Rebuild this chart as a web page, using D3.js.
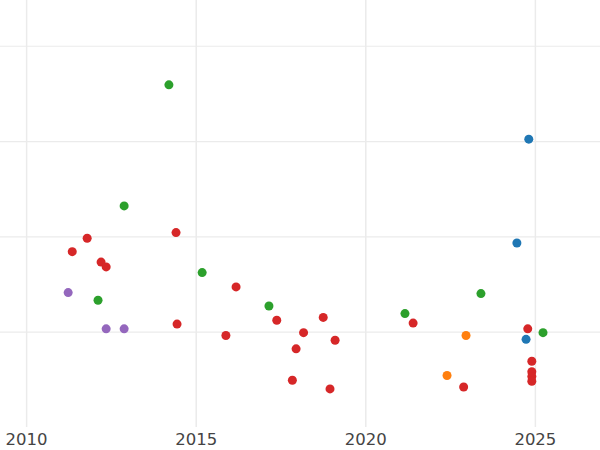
<!DOCTYPE html>
<html>
<head>
<meta charset="utf-8">
<script src="https://cdn.jsdelivr.net/npm/d3@7"></script>
<style>
  body { margin: 0; background: #fff; }
  svg { display: block; font-family: "DejaVu Sans", sans-serif; }
</style>
</head>
<body>
<div class="canvas"></div>
<script>
// years (x) and values (y) per group
const groups = ["blue", "orange", "green", "red", "purple"];

const blueX = [2024.82, 2024.47, 2024.74];
const blueY = [2.02, 0.93, -0.08];

const orangeX = [2022.97, 2022.41];
const orangeY = [-0.04, -0.46];

const greenX = [2014.21, 2012.89, 2015.19, 2012.12, 2017.16, 2021.17, 2023.41, 2025.24];
const greenY = [2.59, 1.32, 0.62, 0.33, 0.27, 0.19, 0.40, -0.01];

const redX = [2011.36, 2011.80, 2012.21, 2012.36, 2014.42, 2014.45, 2015.89, 2016.19,
  2017.39, 2018.18, 2017.96, 2018.76, 2019.11, 2017.85, 2018.96, 2021.41, 2022.90,
  2024.79, 2024.91, 2024.91, 2024.91, 2024.91];
const redY = [0.84, 0.98, 0.73, 0.68, 1.04, 0.08, -0.04, 0.47,
  0.12, -0.01, -0.18, 0.15, -0.09, -0.51, -0.60, 0.09, -0.58,
  0.03, -0.31, -0.42, -0.47, -0.52];

const purpleX = [2011.24, 2012.36, 2012.89];
const purpleY = [0.41, 0.03, 0.03];

const xTicks = [2010, 2015, 2020, 2025];
const yTicks = [0, 1, 2, 3];

const series = [
  { name: "blue", color: "#1f77b4", xs: blueX, ys: blueY },
  { name: "orange", color: "#ff7f0e", xs: orangeX, ys: orangeY },
  { name: "green", color: "#2ca02c", xs: greenX, ys: greenY },
  { name: "red", color: "#d62728", xs: redX, ys: redY },
  { name: "purple", color: "#9467bd", xs: purpleX, ys: purpleY },
];

const width = 600;
const height = 450;
const plotHeight = 427;

const x = d3.scaleLinear().domain([2009.23, 2026.92]).range([0, width]);
const y = d3.scaleLinear().domain([-1, 3.48]).range([plotHeight, 0]);

const svg = d3
  .select(".canvas")
  .append("svg")
  .attr("width", width)
  .attr("height", height);

// grid
svg
  .append("g")
  .attr("class", "grid-x")
  .attr("transform", `translate(0, ${plotHeight})`)
  .call(d3.axisBottom(x).tickValues(xTicks).tickSize(-plotHeight).tickFormat(""))
  .call((g) => g.select(".domain").remove())
  .selectAll("line")
  .attr("stroke", "#ebebeb")
  .attr("stroke-width", 1.5);

svg
  .append("g")
  .attr("class", "grid-y")
  .call(d3.axisLeft(y).tickValues(yTicks).tickSize(-width).tickFormat(""))
  .call((g) => g.select(".domain").remove())
  .selectAll("line")
  .attr("stroke", "#ebebeb")
  .attr("stroke-width", 1.2);

// x tick labels
const xAxis = svg
  .append("g")
  .attr("transform", `translate(0, ${plotHeight})`)
  .call(d3.axisBottom(x).tickValues(xTicks).tickSize(0).tickPadding(6).tickFormat(d3.format("d")));
xAxis.select(".domain").remove();
xAxis
  .selectAll("text")
  .attr("font-family", "DejaVu Sans, sans-serif")
  .attr("font-size", 16.5)
  .attr("fill", "#444");

// points
series.forEach((s) => {
  const pts = s.xs.map((d, i) => ({ x: d, y: s.ys[i] }));
  svg
    .append("g")
    .attr("class", "series-" + s.name)
    .selectAll("circle")
    .data(pts)
    .enter()
    .append("circle")
    .attr("cx", (d) => x(d.x))
    .attr("cy", (d) => y(d.y))
    .attr("r", 4.5)
    .attr("fill", s.color);
});
</script>
</body>
</html>
